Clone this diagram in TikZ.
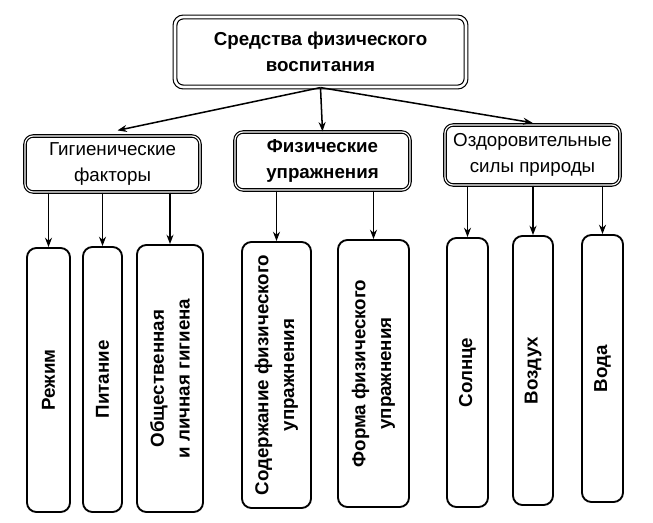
\documentclass[tikz,border=0pt]{standalone}
\usepackage{fontspec}
\setmainfont{Liberation Sans}
\usepackage{tikz}
\usetikzlibrary{arrows.meta, positioning, calc}

\begin{document}
\begin{tikzpicture}[
    >={Stealth[length=2.8mm, width=2.1mm]},
    every node/.style={font=\fontsize{16}{22}\selectfont, align=center},
    headbox/.style={draw, double, double distance=2.2pt, line width=1pt, rounded corners=7pt, minimum width=8.73cm, minimum height=2.1cm, font=\fontsize{16}{22}\selectfont\bfseries},
    groupbox/.style={draw, double, double distance=1pt, line width=1pt, rounded corners=7pt, minimum width=5.25cm},
    leaf/.style={draw, line width=1.6pt, rounded corners=8pt, rotate=90, inner sep=1pt, font=\fontsize{16}{22}\selectfont\bfseries},
    link/.style={->, line width=1.3pt},
]
    \useasboundingbox (0,0) rectangle (19.59,15.66);

    % Head
    \node[headbox] (head) at (9.615,14.1) {Средства физического\\воспитания};

    % Groups
    \node[groupbox, minimum height=1.68cm] (hyg) at (3.375,10.74) {Гигиенические\\факторы};
    \node[groupbox, minimum height=1.74cm, font=\fontsize{16}{22}\selectfont\bfseries] (exer) at (9.675,10.83) {Физические\\упражнения};
    \node[groupbox, minimum height=1.8cm] (nat) at (15.975,11.01) {Оздоровительные\\силы природы};

    % Leaves (rotated: east anchor is the top)
    \node[leaf, minimum width=7.92cm, minimum height=1.29cm] (regime) at (1.455,4.26) {Режим};
    \node[leaf, minimum width=7.95cm, minimum height=1.17cm] (food) at (3.075,4.275) {Питание};
    \node[leaf, minimum width=8.01cm, minimum height=1.98cm] (hygiene) at (5.1,4.305) {Общественная\\и личная гигиена};
    \node[leaf, minimum width=7.98cm, minimum height=2.07cm] (content) at (8.295,4.41) {Содержание физического\\упражнения};
    \node[leaf, minimum width=8.01cm, minimum height=2.13cm] (form) at (11.205,4.455) {Форма физического\\упражнения};
    \node[leaf, minimum width=8.07cm, minimum height=1.23cm] (sun) at (14.025,4.485) {Солнце};
    \node[leaf, minimum width=8.07cm, minimum height=1.2cm] (air) at (15.99,4.545) {Воздух};
    \node[leaf, minimum width=8.01cm, minimum height=1.23cm] (water) at (18.075,4.605) {Вода};

    % Head to groups
    \draw[link] (head.south) -- ($(hyg.north)+(0.15,0.15)$);
    \draw[link] (head.south) -- (exer.north);
    \draw[link] (head.south) -- ($(nat.north)+(0,0.05)$);

    % Groups to leaves
    \foreach \leafname in {regime, food, hygiene}
        \draw[link] (\leafname.east |- hyg.south) -- (\leafname.east);
    \foreach \leafname in {content, form}
        \draw[link] (\leafname.east |- exer.south) -- (\leafname.east);
    \foreach \leafname in {sun, air, water}
        \draw[link] (\leafname.east |- nat.south) -- (\leafname.east);
\end{tikzpicture}
\end{document}
